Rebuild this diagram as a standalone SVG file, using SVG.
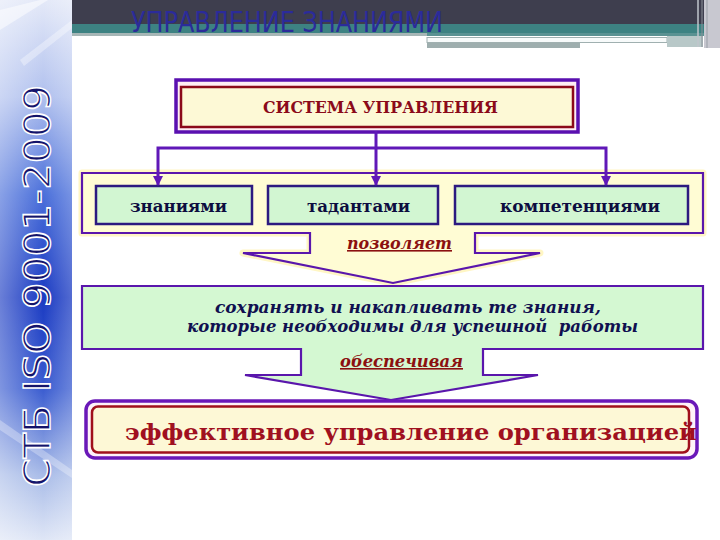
<svg xmlns="http://www.w3.org/2000/svg" width="720" height="540" viewBox="0 0 720 540">
<defs>
<linearGradient id="side" x1="0" y1="0" x2="0" y2="1">
<stop offset="0" stop-color="#e4e9f8"/>
<stop offset="0.18" stop-color="#b0c0ee"/>
<stop offset="0.36" stop-color="#4a6fda"/>
<stop offset="0.55" stop-color="#1a3ac2"/>
<stop offset="0.72" stop-color="#3a5cd0"/>
<stop offset="0.88" stop-color="#a9bce8"/>
<stop offset="1" stop-color="#dfe6f6"/>
</linearGradient>
<linearGradient id="sideH" x1="0" y1="0" x2="1" y2="0">
<stop offset="0" stop-color="#ffffff" stop-opacity="0.35"/>
<stop offset="0.6" stop-color="#ffffff" stop-opacity="0"/>
<stop offset="1" stop-color="#ffffff" stop-opacity="0.25"/>
</linearGradient>
<marker id="arr" viewBox="0 0 10 10" refX="9" refY="5" markerWidth="3.4" markerHeight="3.4" orient="auto" markerUnits="strokeWidth">
<path d="M0,0 L10,5 L0,10 Z" fill="#6018b8"/>
</marker>
<style>
.box{fill:#d2f6d2;stroke:#2c1a80;stroke-width:2.5}
.lbl{font-family:"DejaVu Serif","Liberation Serif",serif;font-weight:bold;font-size:16px;fill:#0d0d40;text-anchor:middle}
.it{font-family:"DejaVu Serif","Liberation Serif",serif;font-weight:bold;font-style:italic;text-anchor:middle}
.red{fill:#8b1010;font-size:16px;text-decoration:underline}
.blue{fill:#101050;font-size:16px}
.con{fill:none;stroke:#6018b8;stroke-width:3;marker-end:url(#arr)}
.frame{stroke:#5a16ac;stroke-width:2.2;stroke-linejoin:miter}
</style>
</defs>
<rect width="720" height="540" fill="#ffffff"/>

<!-- sidebar -->
<g id="sidebar">
<rect x="0" y="0" width="72" height="540" fill="url(#side)"/>
<rect x="0" y="0" width="72" height="540" fill="url(#sideH)"/>
<path d="M0,10 L40,0 L48,0 L0,30 Z" fill="#ffffff" opacity="0.5"/>
<path d="M20,60 L72,20 L72,28 L24,66 Z" fill="#ffffff" opacity="0.35"/>
<path d="M0,420 L72,470 L72,478 L0,430 Z" fill="#ffffff" opacity="0.3"/>
<text transform="translate(50,487) rotate(-90)" x="0" y="0" font-family="DejaVu Sans Condensed,DejaVu Sans,sans-serif" font-size="38" textLength="402" lengthAdjust="spacingAndGlyphs" fill="#14146a" stroke="#ffffff" stroke-width="1.4">СТБ ISO 9001-2009</text>
</g>

<!-- header -->
<g id="header">
<rect x="72" y="0" width="632" height="24" fill="#3e3e4e"/>
<rect x="72" y="24" width="632" height="10" fill="#3d8282"/>
<rect x="72" y="33" width="355" height="3" fill="#a6b6b6"/>
<rect x="427" y="33" width="277" height="3" fill="#5a9292"/>
<rect x="427" y="37.5" width="240" height="5" fill="#f7fafa" stroke="#a0b0b0" stroke-width="1"/>
<rect x="427" y="43" width="153" height="5" fill="#9eaeae"/>
<rect x="667" y="36" width="36" height="11" fill="#b8c8c8"/>
<rect x="704" y="0" width="16" height="48" fill="#c8c8d0"/>
<line x1="698" y1="0" x2="698" y2="47" stroke="#c0c6cc" stroke-width="1.5"/>
<line x1="702" y1="0" x2="702" y2="47" stroke="#8a9098" stroke-width="1"/>
<line x1="707" y1="0" x2="707" y2="48" stroke="#a8acb4" stroke-width="1.5"/>
<text x="131" y="32" font-family="DejaVu Sans Condensed,DejaVu Sans,sans-serif" font-size="28" textLength="312" lengthAdjust="spacingAndGlyphs" fill="#2b2b9a">УПРАВЛЕНИЕ ЗНАНИЯМИ</text>
</g>

<!-- container with arrow "позволяет" -->
<g id="container1">
<path d="M82,173 H703 V233 H475 V253 H540 L393,283 L243,253 H310 V233 H82 Z" fill="none" stroke="#fff6c4" stroke-width="7" stroke-linejoin="round"/>
<path class="frame" d="M82,173 H703 V233 H475 V253 H540 L393,283 L243,253 H310 V233 H82 Z" fill="#fffcd4"/>
<text class="it red" x="399.5" y="249" textLength="105" lengthAdjust="spacingAndGlyphs">позволяет</text>
</g>

<!-- top node -->
<g id="node-system">
<rect x="176" y="80" width="402" height="52" fill="#ffeef4" stroke="#5a10b0" stroke-width="3.5"/>
<rect x="181" y="87" width="392" height="40" fill="#fdf9d6" stroke="#8b0a1a" stroke-width="2.5"/>
<text x="380.5" y="113" font-family="DejaVu Serif,Liberation Serif,serif" font-weight="bold" font-size="17" text-anchor="middle" textLength="235" lengthAdjust="spacingAndGlyphs" fill="#8b0a1a">СИСТЕМА УПРАВЛЕНИЯ</text>
</g>

<g id="node-knowledge">
<rect class="box" x="96" y="186" width="156" height="38"/>
<text class="lbl" x="178.5" y="212" textLength="97" lengthAdjust="spacingAndGlyphs">знаниями</text>
</g>
<g id="node-talents">
<rect class="box" x="268" y="186" width="170" height="38"/>
<text class="lbl" x="358.5" y="212" textLength="103" lengthAdjust="spacingAndGlyphs">тадантами</text>
</g>
<g id="node-competence">
<rect class="box" x="455" y="186" width="233" height="38"/>
<text class="lbl" x="580" y="212" textLength="160" lengthAdjust="spacingAndGlyphs">компетенциями</text>
</g>

<!-- connectors -->
<g id="connectors">
<path class="con" d="M376,131 V185"/>
<path class="con" d="M376,148 H158 V185"/>
<path class="con" d="M376,148 H606 V185"/>
</g>

<!-- green node with arrow "обеспечивая" -->
<g id="node-save">
<path class="frame" d="M82,286 H703 V349 H483 V375 H538 L391,400 L245,375 H301 V349 H82 Z" fill="#d4f8d2"/>
<text class="it blue" x="408" y="313" textLength="386" lengthAdjust="spacingAndGlyphs">сохранять и накапливать те знания,</text>
<text class="it blue" x="412.5" y="332" textLength="451" lengthAdjust="spacingAndGlyphs" xml:space="preserve">которые необходимы для успешной  работы</text>
<text class="it red" x="401.5" y="367" textLength="123" lengthAdjust="spacingAndGlyphs">обеспечивая</text>
</g>

<!-- bottom node -->
<g id="node-effective">
<rect x="86" y="401" width="611" height="57" rx="9" fill="#fff2f8" stroke="#6a18b8" stroke-width="3.5"/>
<rect x="92" y="406.5" width="597" height="46" rx="6" fill="#fdf8d6" stroke="#a0101c" stroke-width="2.5"/>
<text x="125" y="440" font-family="DejaVu Serif,Liberation Serif,serif" font-weight="bold" font-size="22" textLength="572" lengthAdjust="spacingAndGlyphs" fill="#a01020">эффективное управление организацией</text>
</g>
</svg>
